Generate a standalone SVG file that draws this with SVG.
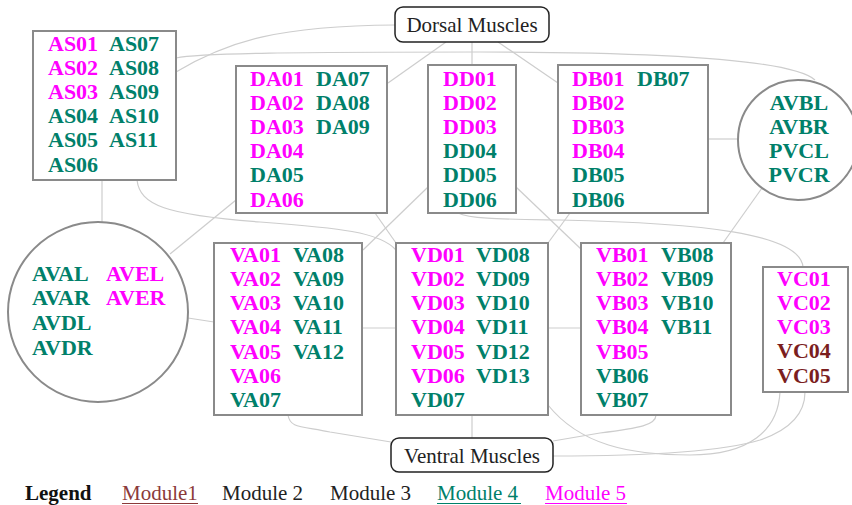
<svg xmlns="http://www.w3.org/2000/svg" width="852" height="505" viewBox="0 0 852 505">
<style>
.edge{fill:none;stroke:#cdcdcd;stroke-width:1.2}
.box{fill:#fff;stroke:#8a8a8a;stroke-width:2}
.mus{fill:#fff;stroke:#222;stroke-width:1.5}
.t{font-family:"Liberation Serif","DejaVu Serif",serif;font-weight:bold;font-size:22px}
.m{fill:#ff00ff}
.g{fill:#00806a}
.r{fill:#7b1e1e}
.lbl{font-family:"Liberation Serif","DejaVu Serif",serif;font-size:21px;fill:#222}
.leg{font-family:"Liberation Serif","DejaVu Serif",serif;font-size:21px}
</style>
<rect width="852" height="505" fill="#fff"/>
<g id="connectors">
<path class="edge" d="M176,72 C230,40 280,26 395,25"/>
<path class="edge" d="M176,58 C200,53 300,52 480,52 C650,52 790,58 815,80"/>
<path class="edge" d="M446,42 L388,83"/>
<path class="edge" d="M472,42 L472,65"/>
<path class="edge" d="M498,42 L558,83"/>
<path class="edge" d="M708,139 L739,139"/>
<path class="edge" d="M762,188 L723,243"/>
<path class="edge" d="M102,180 L102,222"/>
<path class="edge" d="M137,180 C140,205 165,215 260,222 C340,228 380,232 396,250"/>
<path class="edge" d="M236,200 L170,254"/>
<path class="edge" d="M375,213 L396,243"/>
<path class="edge" d="M428,187 L363,250"/>
<path class="edge" d="M516,187 L582,250"/>
<path class="edge" d="M570,213 L548,243"/>
<path class="edge" d="M458,213 C470,219 500,219 560,220 C700,223 800,233 803,267"/>
<path class="edge" d="M362,328 L396,328"/>
<path class="edge" d="M548,328 L581,328"/>
<path class="edge" d="M188,318 L214,322"/>
<path class="edge" d="M288,415 C290,428 300,426 330,432 L391,442"/>
<path class="edge" d="M472,415 L472,438"/>
<path class="edge" d="M656,415 C656,425 640,428 600,433 L553,441"/>
<path class="edge" d="M548,405 C580,445 630,455 690,455 C750,455 778,430 780,392"/>
<path class="edge" d="M553,456 C650,456 720,452 760,440 C795,428 805,410 805,392"/>
</g>
<g id="dorsal">
<rect class="mus" x="395" y="7" width="154" height="35" rx="8"/>
<text class="lbl" x="472" y="32" text-anchor="middle">Dorsal Muscles</text>
</g>
<g id="ventral">
<rect class="mus" x="391" y="438" width="162" height="34" rx="8"/>
<text class="lbl" x="472" y="463" text-anchor="middle">Ventral Muscles</text>
</g>
<g id="AS" class="t">
<rect class="box" x="33" y="31" width="143" height="149"/>
<text class="m" x="48" y="50.5">AS01</text>
<text class="m" x="48" y="74.7">AS02</text>
<text class="m" x="48" y="98.9">AS03</text>
<text class="g" x="48" y="123.1">AS04</text>
<text class="g" x="48" y="147.3">AS05</text>
<text class="g" x="48" y="171.5">AS06</text>
<text class="g" x="109" y="50.5">AS07</text>
<text class="g" x="109" y="74.7">AS08</text>
<text class="g" x="109" y="98.9">AS09</text>
<text class="g" x="109" y="123.1">AS10</text>
<text class="g" x="109" y="147.3">AS11</text>
</g>
<g id="DA" class="t">
<rect class="box" x="236" y="66" width="151" height="147"/>
<text class="m" x="250" y="85.5">DA01</text>
<text class="m" x="250" y="109.7">DA02</text>
<text class="m" x="250" y="133.9">DA03</text>
<text class="m" x="250" y="158.1">DA04</text>
<text class="g" x="250" y="182.3">DA05</text>
<text class="m" x="250" y="206.5">DA06</text>
<text class="g" x="316" y="85.5">DA07</text>
<text class="g" x="316" y="109.7">DA08</text>
<text class="g" x="316" y="133.9">DA09</text>
</g>
<g id="DD" class="t">
<rect class="box" x="428" y="65" width="88" height="148"/>
<text class="m" x="443" y="85.5">DD01</text>
<text class="m" x="443" y="109.7">DD02</text>
<text class="m" x="443" y="133.9">DD03</text>
<text class="g" x="443" y="158.1">DD04</text>
<text class="g" x="443" y="182.3">DD05</text>
<text class="g" x="443" y="206.5">DD06</text>
</g>
<g id="DB" class="t">
<rect class="box" x="558" y="65" width="150" height="148"/>
<text class="m" x="572" y="85.5">DB01</text>
<text class="m" x="572" y="109.7">DB02</text>
<text class="m" x="572" y="133.9">DB03</text>
<text class="m" x="572" y="158.1">DB04</text>
<text class="g" x="572" y="182.3">DB05</text>
<text class="g" x="572" y="206.5">DB06</text>
<text class="g" x="637" y="85.5">DB07</text>
</g>
<g id="AVB" class="t">
<circle class="box" cx="798" cy="140" r="60"/>
<text class="g" x="799" y="109.5" text-anchor="middle">AVBL</text>
<text class="g" x="799" y="133.7" text-anchor="middle">AVBR</text>
<text class="g" x="799" y="157.9" text-anchor="middle">PVCL</text>
<text class="g" x="799" y="182.1" text-anchor="middle">PVCR</text>
</g>
<g id="AVA" class="t">
<circle class="box" cx="98" cy="312" r="90"/>
<text class="g" x="32" y="280.5">AVAL</text>
<text class="g" x="32" y="305.2">AVAR</text>
<text class="g" x="32" y="329.9">AVDL</text>
<text class="g" x="32" y="354.6">AVDR</text>
<text class="m" x="106" y="280.5">AVEL</text>
<text class="m" x="106" y="305.2">AVER</text>
</g>
<g id="VA" class="t">
<rect class="box" x="214" y="243" width="148" height="172"/>
<text class="m" x="230" y="261.5">VA01</text>
<text class="m" x="230" y="285.8">VA02</text>
<text class="m" x="230" y="310.1">VA03</text>
<text class="m" x="230" y="334.4">VA04</text>
<text class="m" x="230" y="358.7">VA05</text>
<text class="m" x="230" y="383">VA06</text>
<text class="g" x="230" y="407.3">VA07</text>
<text class="g" x="293" y="261.5">VA08</text>
<text class="g" x="293" y="285.8">VA09</text>
<text class="g" x="293" y="310.1">VA10</text>
<text class="g" x="293" y="334.4">VA11</text>
<text class="g" x="293" y="358.7">VA12</text>
</g>
<g id="VD" class="t">
<rect class="box" x="396" y="243" width="152" height="172"/>
<text class="m" x="411" y="261.5">VD01</text>
<text class="m" x="411" y="285.8">VD02</text>
<text class="m" x="411" y="310.1">VD03</text>
<text class="m" x="411" y="334.4">VD04</text>
<text class="m" x="411" y="358.7">VD05</text>
<text class="m" x="411" y="383">VD06</text>
<text class="g" x="411" y="407.3">VD07</text>
<text class="g" x="476" y="261.5">VD08</text>
<text class="g" x="476" y="285.8">VD09</text>
<text class="g" x="476" y="310.1">VD10</text>
<text class="g" x="476" y="334.4">VD11</text>
<text class="g" x="476" y="358.7">VD12</text>
<text class="g" x="476" y="383">VD13</text>
</g>
<g id="VB" class="t">
<rect class="box" x="581" y="243" width="150" height="172"/>
<text class="m" x="596" y="261.5">VB01</text>
<text class="m" x="596" y="285.8">VB02</text>
<text class="m" x="596" y="310.1">VB03</text>
<text class="m" x="596" y="334.4">VB04</text>
<text class="m" x="596" y="358.7">VB05</text>
<text class="g" x="596" y="383">VB06</text>
<text class="g" x="596" y="407.3">VB07</text>
<text class="g" x="661" y="261.5">VB08</text>
<text class="g" x="661" y="285.8">VB09</text>
<text class="g" x="661" y="310.1">VB10</text>
<text class="g" x="661" y="334.4">VB11</text>
</g>
<g id="VC" class="t">
<rect class="box" x="763" y="267" width="85" height="125"/>
<text class="m" x="777" y="285.5">VC01</text>
<text class="m" x="777" y="309.8">VC02</text>
<text class="m" x="777" y="334.1">VC03</text>
<text class="r" x="777" y="358.4">VC04</text>
<text class="r" x="777" y="382.7">VC05</text>
</g>
<g id="legend">
<text class="leg" x="25" y="500" font-weight="bold" fill="#111">Legend</text>
<text class="leg" x="122" y="500" fill="#8b3a3a">Module1</text>
<line x1="122" y1="503.5" x2="198" y2="503.5" stroke="#8b3a3a" stroke-width="1"/>
<text class="leg" x="222" y="500" fill="#222">Module 2</text>
<text class="leg" x="330" y="500" fill="#222">Module 3</text>
<text class="leg" x="437" y="500" fill="#00806a">Module 4</text>
<line x1="437" y1="503.5" x2="521" y2="503.5" stroke="#00806a" stroke-width="1"/>
<text class="leg" x="545" y="500" fill="#ff00ff">Module 5</text>
<line x1="545" y1="503.5" x2="627" y2="503.5" stroke="#ff00ff" stroke-width="1"/>
</g>
</svg>
